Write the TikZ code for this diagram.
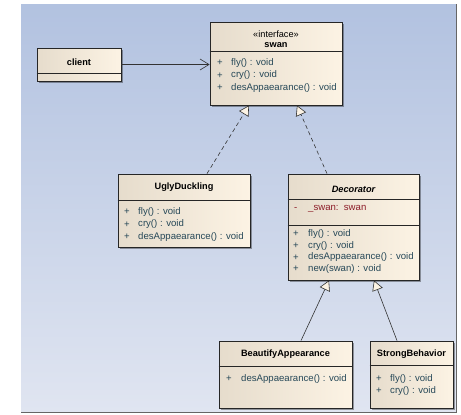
\documentclass[tikz,border=0pt]{standalone}
\usepackage{fontspec}
\setmainfont{Liberation Sans}
\usetikzlibrary{%
		arrows.meta%
		,shadows%
	}
\definecolor{boxleft}{RGB}{230,220,204}
\definecolor{boxright}{RGB}{252,243,228}
\definecolor{methcol}{RGB}{38,72,88}
\definecolor{attrcol}{RGB}{140,28,40}
\definecolor{bgtop}{RGB}{178,194,224}
\definecolor{bgbottom}{RGB}{224,229,241}

\begin{document}
\begin{tikzpicture}[x=1pt,y=-1pt,
		klasse/.style={draw=black!85, line width=0.8pt, left color=boxleft, right color=boxright, inner sep=0pt,
			drop shadow={shadow xshift=1.5pt, shadow yshift=-1.5pt, opacity=0.35, fill=black}},
		trenn/.style={draw=black!85, line width=0.8pt},
		titel/.style={inner sep=0pt, font=\fontsize{9.2}{11}\selectfont\bfseries},
		methode/.style={anchor=west, inner sep=0pt, text=methcol, font=\fontsize{9.6}{11}\selectfont},
		attribut/.style={anchor=west, inner sep=0pt, text=attrcol, font=\fontsize{9.6}{11}\selectfont},
		pfeil/.style={draw=black!80, line width=0.6pt},
		realize/.style={pfeil, dash pattern=on 4pt off 3pt, -{Triangle[fill=boxright, length=10pt, width=11pt]}},
		inherit/.style={pfeil, -{Triangle[fill=boxright, length=10pt, width=11pt]}},
		assoc/.style={pfeil, -{Straight Barb[length=9pt, width=11pt]}}
	]
	\useasboundingbox (0,0) rectangle (461,415);
	% Hintergrund
	\shade[top color=bgtop, bottom color=bgbottom] (21,4) rectangle (456,412);
	\draw[black!60, line width=1.6pt] (21,412.5) -- (456.5,412.5) -- (456.5,4);

	% client
	\node[klasse, minimum width=84pt, minimum height=33pt] (client) at (79,64.5) {};
	\draw[trenn] (client.west |- 0,73) -- (client.east |- 0,73);
	\node[titel] (clientname) at (79,62) {client};

	% swan
	\node[klasse, minimum width=132pt, minimum height=83pt] (swan) at (276,63.5) {};
	\draw[trenn] (swan.west |- 0,51) -- (swan.east |- 0,51);
	\node[inner sep=0pt, font=\fontsize{9.2}{11}\selectfont] (swanstereo) at (276,34) {«interface»};
	\node[titel] (swanname) at (276,45.5) {swan};
	\foreach \txt [count=\i] in {fly() : void, cry() : void, desAppaearance() : void}{
		\node[methode] (swanplus\i) at (217,50.5+12.5*\i) {+};
		\node[methode] (swanm\i) at (231,50.5+12.5*\i) {\txt};
	}

	% UglyDuckling
	\node[klasse, minimum width=132pt, minimum height=73pt] (ugly) at (184,210.5) {};
	\draw[trenn] (ugly.west |- 0,200) -- (ugly.east |- 0,200);
	\node[titel] (uglyname) at (184,187) {UglyDuckling};
	\foreach \txt [count=\i] in {fly() : void, cry() : void, desAppaearance() : void}{
		\node[methode] (uglyplus\i) at (124,200+12.2*\i) {+};
		\node[methode] (uglym\i) at (138,200+12.2*\i) {\txt};
	}

	% Decorator
	\node[klasse, minimum width=131pt, minimum height=106pt] (deco) at (353.5,227) {};
	\draw[trenn] (deco.west |- 0,199) -- (deco.east |- 0,199);
	\draw[trenn] (deco.west |- 0,225) -- (deco.east |- 0,225);
	\node[titel, font=\fontsize{9.2}{11}\selectfont\bfseries\itshape] (deconame) at (353.5,189) {Decorator};
	\node[attribut] (decominus) at (294,209) {-};
	\node[attribut] (decoa1) at (308,209) {\_swan:\ \ swan};
	\foreach \txt [count=\i] in {fly() : void, cry() : void, desAppaearance() : void, new(swan) : void}{
		\node[methode] (decoplus\i) at (293,222.5+11.6*\i) {+};
		\node[methode] (decom\i) at (308,222.5+11.6*\i) {\txt};
	}

	% BeautifyAppearance
	\node[klasse, minimum width=133pt, minimum height=67pt] (beauty) at (285.5,374.5) {};
	\draw[trenn] (beauty.west |- 0,366) -- (beauty.east |- 0,366);
	\node[titel] (beautyname) at (285.5,354) {BeautifyAppearance};
	\node[methode] (beautyplus1) at (226,379) {+};
	\node[methode] (beautym1) at (241,379) {desAppaearance() : void};

	% StrongBehavior
	\node[klasse, minimum width=83pt, minimum height=67pt] (strong) at (411.5,374.5) {};
	\draw[trenn] (strong.west |- 0,365) -- (strong.east |- 0,365);
	\node[titel] (strongname) at (411.5,354) {StrongBehavior};
	\foreach \txt [count=\i] in {fly() : void, cry() : void}{
		\node[methode] (strongplus\i) at (376,367+12*\i) {+};
		\node[methode] (strongm\i) at (390,367+12*\i) {\txt};
	}

	% Beziehungen
	\draw[assoc] (client.east) -- (client.east -| swan.west);
	\draw[realize] ([xshift=23pt]ugly.north) -- ([xshift=-27pt]swan.south);
	\draw[realize] ([xshift=-26.5pt]deco.north) -- ([xshift=21pt]swan.south);
	\draw[inherit] ([xshift=15.5pt]beauty.north) -- ([xshift=-24.5pt]deco.south);
	\draw[inherit] ([xshift=-14.5pt]strong.north) -- ([xshift=20.5pt]deco.south);
\end{tikzpicture}
\end{document}
